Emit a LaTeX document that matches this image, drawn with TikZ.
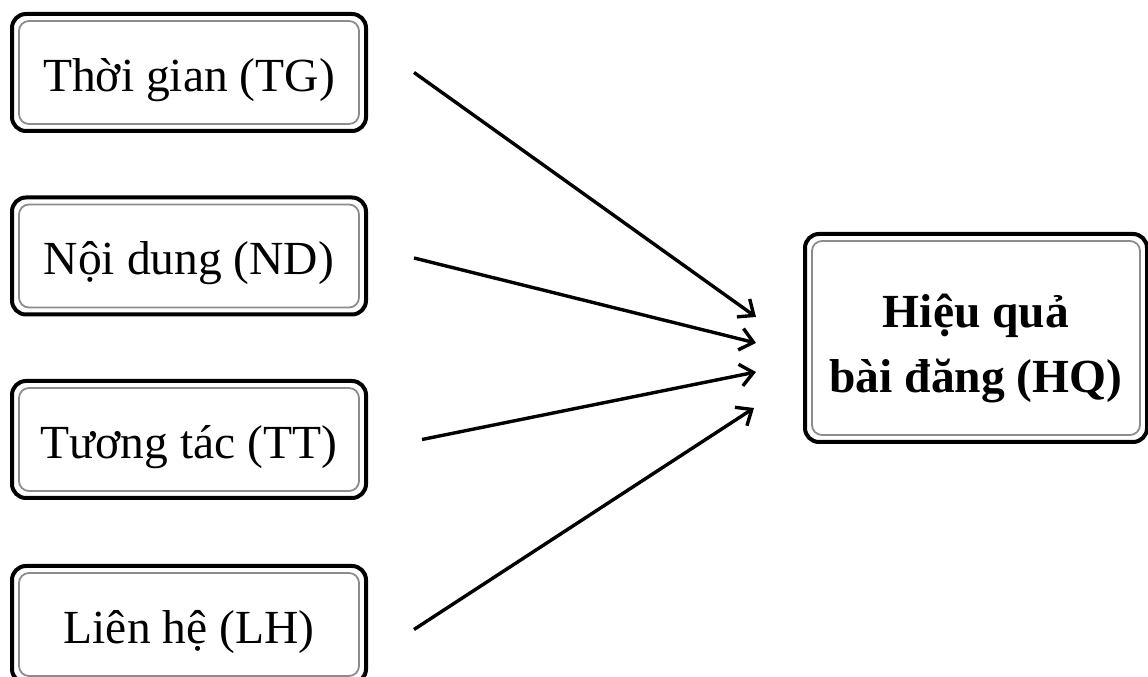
\documentclass[tikz,border=0pt]{standalone}
\usepackage{fontspec}
\setmainfont{Liberation Serif}
\usetikzlibrary{arrows.meta}
\begin{document}
\begin{tikzpicture}[x=1pt,y=1pt,
  factor/.style={draw=black, line width=4pt, rounded corners=14pt,
    minimum width=354pt, minimum height=117pt, inner sep=0pt,
    text height=48pt, text depth=10pt,
    font=\fontsize{47.5}{56}\selectfont, align=center},
  result/.style={draw=black, line width=4pt, rounded corners=14pt,
    minimum width=342pt, minimum height=208pt, inner sep=0pt,
    text height=120pt, align=center,
    font=\bfseries\fontsize{47.5}{65}\selectfont},
  innerline/.style={draw=black!45, line width=1.8pt, rounded corners=10pt},
  arr/.style={line width=3.4pt, -{Straight Barb[length=13pt,width=22pt,line width=3.4pt]}}]
\useasboundingbox (0,0) rectangle (1148,677);

\node[factor] (tg) at (189,604.5) {Thời gian (TG)};
\node[factor] (nd) at (189,421) {Nội dung (ND)};
\node[factor] (tt) at (189,237.5) {Tương tác (TT)};
\node[factor] (lh) at (189,52.5) {Liên hệ (LH)};
\node[result] (hq) at (976,339) {Hiệu quả\\bài đăng (HQ)};

% thin grey inner frame of every box
\foreach \n in {tg,nd,tt,lh,hq}
  \draw[innerline] ([shift={(9pt,9pt)}]\n.south west) rectangle ([shift={(-9pt,-9pt)}]\n.north east);

\draw[arr] ([xshift=46pt]tg.east) -- ([shift={(-47pt,21pt)}]hq.west);
\draw[arr] ([shift={(46pt,-2pt)}]nd.east) -- ([shift={(-47pt,-5pt)}]hq.west);
\draw[arr] ([xshift=54pt]tt.east) -- ([shift={(-47pt,-34pt)}]hq.west);
\draw[arr] ([shift={(46pt,-5pt)}]lh.east) -- ([shift={(-49pt,-70pt)}]hq.west);
\end{tikzpicture}
\end{document}
